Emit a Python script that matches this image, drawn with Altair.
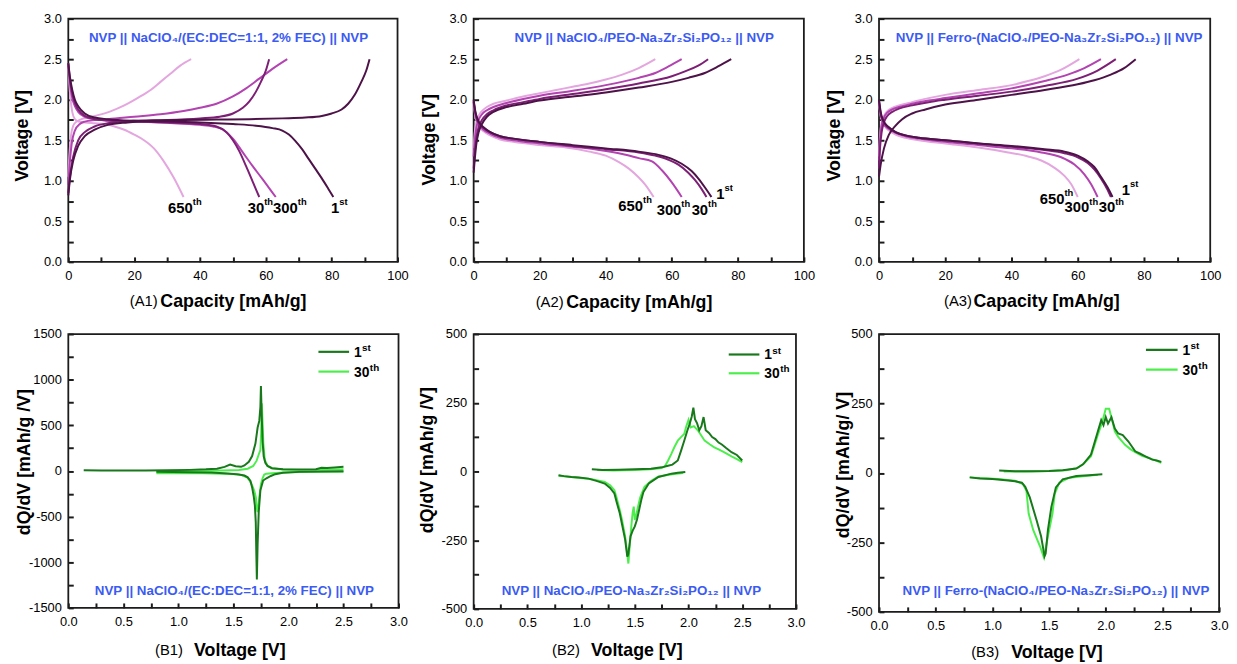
import altair as alt
import pandas as pd

FONT = "Liberation Sans"
BLUE = "#3b5bf2"
INK = "#1c1c1c"
PURPLE = {"1st": "#4d1248", "30th": "#7d1f75", "300th": "#b243b0", "650th": "#e4a6df"}
GREEN = {"1st": "#18781b", "30th": "#4cee4c"}

# ---------------- tick arrays ----------------
CAP_TICKS = [0, 10, 20, 30, 40, 50, 60, 70, 80, 90, 100]
VOLT_TICKS = [0, 0.25, 0.5, 0.75, 1.0, 1.25, 1.5, 1.75, 2.0, 2.25, 2.5, 2.75, 3.0]
DQ1_TICKS = [-1500, -1250, -1000, -750, -500, -250, 0, 250, 500, 750, 1000, 1250, 1500]
DQ23_TICKS = [-500, -375, -250, -125, 0, 125, 250, 375, 500]

# ---------------- A1 : liquid electrolyte, capacity [mAh/g] / voltage [V] ----------------
A1_CH1_C = [0, 0.5, 1.5, 3, 5, 8, 12, 18, 25, 35, 45, 55, 65, 72, 77, 80, 83, 85, 87, 89, 90.5, 91.5]
A1_CH1_V = [0.82, 1.02, 1.25, 1.43, 1.55, 1.63, 1.69, 1.72, 1.74, 1.75, 1.755, 1.76, 1.77, 1.78, 1.80, 1.83, 1.88, 1.95, 2.06, 2.22, 2.36, 2.5]
A1_DC1_C = [0, 0.5, 1.2, 2, 3, 5, 8, 12, 20, 30, 40, 50, 57, 62, 65, 67, 69, 71, 73, 75, 77, 79, 80.5]
A1_DC1_V = [2.45, 2.28, 2.12, 2.0, 1.92, 1.83, 1.78, 1.76, 1.74, 1.73, 1.72, 1.70, 1.68, 1.65, 1.62, 1.57, 1.49, 1.39, 1.27, 1.15, 1.03, 0.90, 0.80]
A1_CH30_C = [0, 0.5, 1.5, 3, 5, 8, 12, 20, 30, 40, 46, 50, 53, 55, 57, 58.5, 60, 61]
A1_CH30_V = [0.85, 1.05, 1.3, 1.5, 1.6, 1.67, 1.71, 1.74, 1.75, 1.77, 1.79, 1.83, 1.9, 1.98, 2.1, 2.22, 2.36, 2.5]
A1_DC30_C = [0, 0.5, 1.2, 2, 3, 5, 8, 12, 20, 30, 40, 45, 48, 50, 52, 54, 56, 58]
A1_DC30_V = [2.45, 2.25, 2.08, 1.96, 1.88, 1.8, 1.76, 1.745, 1.73, 1.72, 1.70, 1.67, 1.6, 1.5, 1.36, 1.18, 0.99, 0.80]
A1_CH300_C = [0, 0.4, 1, 2, 3.5, 5, 8, 12, 20, 28, 35, 40, 45, 50, 54, 58, 62, 66.5]
A1_CH300_V = [0.95, 1.2, 1.45, 1.62, 1.7, 1.73, 1.75, 1.76, 1.79, 1.82, 1.86, 1.9, 1.95, 2.04, 2.14, 2.26, 2.38, 2.5]
A1_DC300_C = [0, 0.5, 1.2, 2, 3, 5, 8, 12, 20, 30, 40, 44, 47, 50, 53, 56, 59, 61, 63]
A1_DC300_V = [2.42, 2.2, 2.02, 1.92, 1.85, 1.79, 1.76, 1.745, 1.73, 1.715, 1.69, 1.67, 1.63, 1.52, 1.35, 1.18, 1.02, 0.91, 0.80]
A1_CH650_C = [0, 0.3, 0.8, 1.5, 2.5, 4, 6, 9, 13, 17, 21, 25, 28, 31, 34, 37.3]
A1_CH650_V = [1.05, 1.3, 1.55, 1.68, 1.73, 1.76, 1.78, 1.81, 1.86, 1.93, 2.02, 2.12, 2.22, 2.32, 2.42, 2.5]
A1_DC650_C = [0, 0.3, 0.7, 1.2, 2, 3, 5, 8, 11, 14, 17, 20, 23, 26, 29, 32, 35]
A1_DC650_V = [2.45, 2.2, 2.0, 1.85, 1.76, 1.73, 1.72, 1.71, 1.7, 1.67, 1.63, 1.57, 1.5, 1.4, 1.24, 1.04, 0.80]

# ---------------- A2 : PEO-NZSP ----------------
A2_CH1_C = [0, 0.3, 0.8, 1.5, 2.5, 4, 6, 10, 15, 20, 30, 40, 50, 60, 65, 70, 74, 78]
A2_CH1_V = [1.1, 1.25, 1.45, 1.6, 1.7, 1.79, 1.85, 1.91, 1.95, 1.99, 2.04, 2.09, 2.15, 2.22, 2.27, 2.33, 2.41, 2.5]
A2_CH30_C = [0, 0.3, 0.8, 1.5, 2.5, 4, 6, 10, 15, 20, 30, 40, 50, 60, 64, 68, 71]
A2_CH30_V = [1.15, 1.32, 1.52, 1.66, 1.75, 1.82, 1.87, 1.93, 1.97, 2.01, 2.07, 2.13, 2.2, 2.29, 2.35, 2.42, 2.5]
A2_CH300_C = [0, 0.3, 0.8, 1.5, 2.5, 4, 6, 10, 15, 20, 30, 40, 50, 55, 59, 63]
A2_CH300_V = [1.3, 1.48, 1.65, 1.75, 1.82, 1.87, 1.91, 1.96, 2.01, 2.05, 2.11, 2.18, 2.27, 2.33, 2.41, 2.5]
A2_CH650_C = [0, 0.3, 0.8, 1.5, 2.5, 4, 6, 10, 15, 20, 25, 30, 35, 40, 45, 50, 55]
A2_CH650_V = [1.4, 1.58, 1.72, 1.8, 1.86, 1.91, 1.95, 1.99, 2.04, 2.08, 2.12, 2.16, 2.2, 2.25, 2.31, 2.39, 2.5]
A2_DC1_C = [0, 0.5, 1.2, 2, 3, 5, 8, 12, 20, 30, 40, 50, 56, 60, 63, 66, 68, 70, 72]
A2_DC1_V = [2.0, 1.86, 1.76, 1.7, 1.66, 1.6, 1.55, 1.52, 1.48, 1.44, 1.4, 1.36, 1.32, 1.27, 1.21, 1.12, 1.03, 0.92, 0.80]
A2_DC30_C = [0, 0.5, 1.2, 2, 3, 5, 8, 12, 20, 30, 40, 50, 55, 59, 62, 65, 67, 69, 70.5]
A2_DC30_V = [1.98, 1.84, 1.74, 1.69, 1.65, 1.6, 1.55, 1.52, 1.48, 1.43, 1.39, 1.35, 1.31, 1.26, 1.2, 1.1, 1.01, 0.9, 0.80]
A2_DC300_C = [0, 0.5, 1.2, 2, 3, 5, 8, 12, 20, 30, 38, 45, 50, 54, 57, 60, 63]
A2_DC300_V = [1.97, 1.82, 1.72, 1.67, 1.63, 1.58, 1.53, 1.5, 1.46, 1.42, 1.38, 1.33, 1.28, 1.24, 1.13, 0.98, 0.80]
A2_DC650_C = [0, 0.5, 1.2, 2, 3, 5, 8, 12, 20, 28, 35, 40, 44, 47, 50, 52, 54.5]
A2_DC650_V = [1.96, 1.8, 1.7, 1.65, 1.61, 1.56, 1.51, 1.48, 1.44, 1.41, 1.36, 1.31, 1.23, 1.15, 1.04, 0.95, 0.80]

# ---------------- A3 : Ferro-(PEO-NZSP) ----------------
A3_CH1_C = [0, 0.5, 1.5, 3, 5, 7, 10, 14, 20, 30, 40, 50, 60, 65, 70, 74, 77.5]
A3_CH1_V = [1.05, 1.2, 1.4, 1.57, 1.68, 1.76, 1.83, 1.88, 1.94, 2.0, 2.06, 2.12, 2.19, 2.24, 2.31, 2.39, 2.5]
A3_CH30_C = [0, 0.3, 0.8, 1.5, 2.5, 4, 6, 10, 15, 20, 30, 40, 50, 60, 66, 71.5]
A3_CH30_V = [1.15, 1.4, 1.6, 1.72, 1.8, 1.85, 1.89, 1.93, 1.97, 2.0, 2.05, 2.1, 2.17, 2.26, 2.36, 2.5]
A3_CH300_C = [0, 0.3, 0.8, 1.5, 2.5, 4, 6, 10, 15, 20, 30, 40, 50, 57, 62, 67]
A3_CH300_V = [1.25, 1.5, 1.68, 1.78, 1.84, 1.88, 1.91, 1.95, 1.99, 2.02, 2.08, 2.14, 2.23, 2.31, 2.39, 2.5]
A3_CH650_C = [0, 0.3, 0.8, 1.5, 2.5, 4, 6, 10, 15, 20, 30, 40, 45, 50, 55, 60.5]
A3_CH650_V = [1.3, 1.55, 1.72, 1.8, 1.86, 1.9, 1.93, 1.97, 2.02, 2.06, 2.12, 2.18, 2.23, 2.29, 2.37, 2.5]
A3_DC1_C = [0, 0.5, 1.2, 2, 3, 5, 8, 12, 20, 30, 40, 50, 56, 60, 63, 65, 67, 69, 70.5]
A3_DC1_V = [2.0, 1.85, 1.75, 1.7, 1.66, 1.6, 1.56, 1.53, 1.5, 1.46, 1.43, 1.39, 1.36, 1.31, 1.24, 1.17, 1.05, 0.92, 0.80]
A3_DC30_C = [0, 0.5, 1.2, 2, 3, 5, 8, 12, 20, 30, 40, 50, 56, 60, 63, 65, 67, 69, 70]
A3_DC30_V = [1.98, 1.83, 1.74, 1.69, 1.65, 1.6, 1.56, 1.53, 1.5, 1.46, 1.42, 1.38, 1.34, 1.29, 1.22, 1.14, 1.03, 0.89, 0.80]
A3_DC300_C = [0, 0.5, 1.2, 2, 3, 5, 8, 12, 20, 30, 40, 49, 55, 59, 62, 64, 66]
A3_DC300_V = [1.97, 1.82, 1.72, 1.67, 1.64, 1.59, 1.55, 1.52, 1.48, 1.44, 1.4, 1.35, 1.29, 1.2, 1.08, 0.96, 0.80]
A3_DC650_C = [0, 0.5, 1.2, 2, 3, 5, 8, 12, 20, 30, 39, 45, 49, 53, 56, 58, 60]
A3_DC650_V = [1.96, 1.8, 1.71, 1.66, 1.62, 1.57, 1.53, 1.5, 1.46, 1.41, 1.35, 1.3, 1.25, 1.16, 1.06, 0.96, 0.80]

# cycle labels (junction of number and superscript, data coords)
LAB_MAIN = ["650", "30", "300", "1"]
LAB_SUP = ["th", "th", "th", "st"]
A1_LAB_C = [37.8, 59.5, 69.7, 82.3]
A1_LAB_V = [0.66, 0.66, 0.66, 0.66]
A2_LAB_C = [51.3, 71.0, 62.9, 76.0]
A2_LAB_V = [0.69, 0.64, 0.64, 0.84]
A3_LAB_C = [56.0, 71.3, 63.5, 75.8]
A3_LAB_V = [0.77, 0.67, 0.67, 0.89]

# ---------------- B1 : dQ/dV liquid ----------------
B1_CH1_V = [0.14, 0.3, 0.5, 0.7, 0.9, 1.1, 1.25, 1.35, 1.42, 1.47, 1.52, 1.57, 1.6, 1.64, 1.67, 1.7, 1.72, 1.735, 1.745, 1.75, 1.756, 1.765, 1.775, 1.79, 1.81, 1.85, 1.95, 2.1, 2.25, 2.3, 2.35, 2.42, 2.5]
B1_CH1_Q = [8, 5, 4, 6, 8, 12, 18, 25, 45, 70, 52, 45, 60, 100, 163, 300, 476, 548, 700, 930, 650, 320, 160, 90, 55, 30, 18, 15, 18, 35, 32, 38, 45]
B1_CH30_V = [0.8, 1.0, 1.2, 1.4, 1.55, 1.63, 1.68, 1.71, 1.73, 1.745, 1.752, 1.758, 1.764, 1.772, 1.785, 1.81, 1.85, 1.95, 2.1, 2.3, 2.5]
B1_CH30_Q = [-5, 0, 3, 5, 10, 25, 55, 110, 180, 230, 420, 740, 560, 300, 120, 55, 30, 15, 12, 12, 18]
B1_DC1_V = [2.5, 2.3, 2.1, 1.95, 1.88, 1.84, 1.8, 1.77, 1.745, 1.73, 1.72, 1.713, 1.708, 1.703, 1.695, 1.685, 1.67, 1.655, 1.63, 1.6, 1.55, 1.45, 1.3, 1.1, 0.95, 0.8]
B1_DC1_Q = [-3, -6, -10, -20, -35, -55, -80, -105, -212, -450, -800, -1190, -900, -560, -380, -280, -180, -110, -70, -50, -38, -28, -18, -14, -12, -10]
B1_DC30_V = [2.5, 2.3, 2.1, 1.95, 1.85, 1.8, 1.78, 1.765, 1.75, 1.735, 1.726, 1.72, 1.712, 1.704, 1.69, 1.673, 1.65, 1.626, 1.58, 1.53, 1.4, 1.22, 1.0, 0.8]
B1_DC30_Q = [-8, -10, -12, -16, -24, -30, -40, -80, -145, -290, -400, -450, -400, -290, -220, -166, -110, -72, -48, -36, -30, -25, -24, -24]

# ---------------- B2 : dQ/dV PEO-NZSP ----------------
B2_CH1_V = [1.1, 1.2, 1.35, 1.5, 1.65, 1.75, 1.8, 1.85, 1.9, 1.93, 1.96, 1.99, 2.01, 2.03, 2.045, 2.06, 2.08, 2.1, 2.12, 2.14, 2.16, 2.19, 2.22, 2.25, 2.28, 2.31, 2.35, 2.4, 2.45, 2.5]
B2_CH1_Q = [8, 5, 6, 8, 10, 15, 20, 25, 40, 75, 112, 150, 172, 200, 232, 190, 175, 150, 165, 198, 150, 140, 125, 118, 105, 98, 85, 70, 60, 40]
B2_CH30_V = [1.15, 1.3, 1.5, 1.65, 1.75, 1.78, 1.81, 1.84, 1.87, 1.9, 1.93, 1.96, 1.98, 2.0, 2.02, 2.05, 2.09, 2.12, 2.15, 2.2, 2.24, 2.28, 2.33, 2.4, 2.45, 2.5]
B2_CH30_Q = [5, 3, 5, 8, 12, 19, 40, 64, 90, 112, 125, 136, 165, 188, 160, 165, 148, 130, 112, 98, 88, 80, 70, 55, 45, 34]
B2_DC1_V = [1.97, 1.9, 1.84, 1.72, 1.63, 1.58, 1.56, 1.54, 1.52, 1.5, 1.48, 1.46, 1.44, 1.43, 1.41, 1.38, 1.36, 1.33, 1.31, 1.27, 1.22, 1.15, 1.07, 0.98, 0.91, 0.84, 0.79]
B2_DC1_Q = [-2, -5, -8, -20, -44, -75, -104, -140, -176, -200, -215, -236, -300, -310, -248, -190, -152, -110, -80, -60, -44, -35, -26, -22, -20, -17, -14]
B2_DC30_V = [1.95, 1.85, 1.72, 1.65, 1.59, 1.55, 1.53, 1.51, 1.5, 1.49, 1.48, 1.47, 1.455, 1.44, 1.43, 1.41, 1.38, 1.36, 1.33, 1.31, 1.27, 1.22, 1.1, 0.91, 0.79]
B2_DC30_Q = [-6, -10, -18, -35, -56, -95, -128, -165, -176, -128, -150, -188, -260, -335, -300, -236, -175, -140, -95, -68, -50, -38, -28, -20, -16]

# ---------------- B3 : dQ/dV Ferro-(PEO-NZSP) ----------------
B3_CH1_V = [1.06, 1.2, 1.35, 1.5, 1.62, 1.74, 1.8, 1.87, 1.93, 1.96, 1.98, 2.0, 2.02, 2.05, 2.08, 2.11, 2.15, 2.2, 2.26, 2.3, 2.35, 2.41, 2.45, 2.49]
B3_CH1_Q = [9, 6, 6, 7, 10, 16, 31, 66, 149, 190, 172, 201, 178, 200, 160, 142, 136, 113, 78, 70, 60, 48, 45, 40]
B3_CH30_V = [1.1, 1.3, 1.5, 1.65, 1.75, 1.81, 1.87, 1.93, 1.97, 2.0, 2.03, 2.06, 2.08, 2.11, 2.17, 2.22, 2.26, 2.32, 2.38, 2.44, 2.49]
B3_CH30_Q = [5, 5, 7, 10, 18, 35, 60, 137, 184, 231, 231, 184, 150, 130, 101, 85, 75, 62, 54, 45, 36]
B3_DC1_V = [1.97, 1.85, 1.74, 1.62, 1.56, 1.52, 1.49, 1.47, 1.46, 1.43, 1.39, 1.33, 1.29, 1.26, 1.2, 1.14, 1.0, 0.89, 0.8]
B3_DC1_Q = [-5, -8, -11, -23, -52, -123, -205, -290, -300, -229, -170, -88, -50, -35, -30, -27, -22, -20, -16]
B3_DC30_V = [1.93, 1.8, 1.68, 1.59, 1.55, 1.53, 1.49, 1.455, 1.42, 1.36, 1.32, 1.3, 1.27, 1.2, 1.05, 0.8]
B3_DC30_Q = [-7, -12, -17, -35, -75, -146, -228, -305, -264, -205, -146, -64, -40, -28, -22, -16]

HEAD1 = "NVP || NaClO\u2084/(EC:DEC=1:1, 2% FEC) || NVP"
HEAD2 = "NVP || NaClO\u2084/PEO-Na\u2083Zr\u2082Si\u2082PO\u2081\u2082 || NVP"
HEAD3 = "NVP || Ferro-(NaClO\u2084/PEO-Na\u2083Zr\u2082Si\u2082PO\u2081\u2082) || NVP"

ONE = pd.DataFrame({"k": [0]})


def table(series, colors):
    rows = []
    for cyc, kind, xs, ys in series:
        if len(xs) != len(ys):
            raise ValueError(f"length mismatch {cyc} {kind}: {len(xs)} vs {len(ys)}")
        for i, (x, y) in enumerate(zip(xs, ys)):
            rows.append({"cyc": cyc, "col": colors[cyc], "s": f"{cyc}-{kind}", "x": x, "y": y, "i": i})
    return pd.DataFrame(rows)


def lab_expr(step, decimals):
    shown = "format(datum.value, '.1f')" if decimals else "'' + datum.value"
    return f"abs(datum.value % {step}) < 1e-9 ? {shown} : ''"


def const_text(text, x, y, size, weight="bold", color="black", align="left"):
    return alt.Chart(ONE).mark_text(
        text=text, font=FONT, fontSize=size, fontWeight=weight, color=color,
        align=align, baseline="middle"
    ).encode(x=alt.value(x), y=alt.value(y))


def panel(series, colors, w, h, xdom, xticks, xstep, xdec, ydom, yticks, ystep, ydec,
          xtitle, tc, tag, tag_gap, xt_dy, ytitle, yt_left, yt_cy, header, hx, hy, interp,
          labels=None, legend=None):
    df = table(series, colors)
    xscale = alt.Scale(domain=xdom, nice=False, zero=False)
    yscale = alt.Scale(domain=ydom, nice=False, zero=False)
    common = dict(tickSize=5, tickWidth=2, tickColor=INK, ticks=True,
                  domain=False, grid=False,
                  labelFont=FONT, labelFontSize=13, labelColor="black",
                  labelFlush=False, labelOverlap=False,
                  titleFont=FONT, titleFontSize=18, titleFontWeight="bold", titleColor="black")
    xaxis = alt.Axis(values=xticks, labelExpr=lab_expr(xstep, xdec), offset=-5, title=xtitle,
                     labelPadding=8, titleX=tc, titleY=xt_dy + 5, titleAlign="center",
                     titleBaseline="middle", **common)
    yaxis = alt.Axis(values=yticks, labelExpr=lab_expr(ystep, ydec), offset=-5, title=ytitle,
                     labelPadding=7, titleAngle=270, titleX=yt_left - 6, titleY=yt_cy, titleAlign="center",
                     titleBaseline="top", **common)
    X = alt.X("x:Q", scale=xscale, axis=xaxis)
    Y = alt.Y("y:Q", scale=yscale, axis=yaxis)

    lines = alt.Chart(df).mark_line(strokeWidth=2, interpolate=interp).encode(
        x=X, y=Y, detail="s:N", order="i:Q", color=alt.Color("col:N", scale=None))

    layers = [lines,
              const_text(header, hx, hy, 13.5, color=BLUE, align="center"),
              const_text(tag, tc - tag_gap, h + xt_dy, 15, weight="normal", align="right")]
    if labels is not None:
        ldf = pd.DataFrame({"x": labels[0], "y": labels[1], "main": LAB_MAIN, "sup": LAB_SUP})
        layers.append(alt.Chart(ldf).mark_text(font=FONT, fontSize=15, fontWeight="bold", color="black",
                                               align="right", baseline="middle").encode(x=X, y=Y, text="main:N"))
        layers.append(alt.Chart(ldf).mark_text(font=FONT, fontSize=9.5, fontWeight="bold", color="black",
                                               align="left", baseline="middle", dy=-6).encode(x=X, y=Y, text="sup:N"))
    if legend is not None:
        lx1, lx2, tx, ys = legend
        for (cyc, main, sup, mw), yy in zip([("1st", "1", "st", 8), ("30th", "30", "th", 16)], ys):
            layers.append(alt.Chart(ONE).mark_rule(color=colors[cyc], strokeWidth=2.2).encode(
                x=alt.value(lx1), x2=alt.value(lx2), y=alt.value(yy)))
            layers.append(const_text(main, tx, yy + 1, 14))
            layers.append(const_text(sup, tx + mw, yy - 4, 10))
    return alt.layer(*layers).properties(width=w, height=h)


A1 = panel([("650th", "c", A1_CH650_C, A1_CH650_V), ("650th", "d", A1_DC650_C, A1_DC650_V),
            ("300th", "c", A1_CH300_C, A1_CH300_V), ("300th", "d", A1_DC300_C, A1_DC300_V),
            ("30th", "c", A1_CH30_C, A1_CH30_V), ("30th", "d", A1_DC30_C, A1_DC30_V),
            ("1st", "c", A1_CH1_C, A1_CH1_V), ("1st", "d", A1_DC1_C, A1_DC1_V)],
           PURPLE, 333, 246, [0, 100], CAP_TICKS, 20, False, [0, 3], VOLT_TICKS, 0.5, True,
           "Capacity [mAh/g]", 166.5, "(A1)", 76, 40, "Voltage [V]", -54, 118, HEAD1, 162, 20, "monotone",
           labels=(A1_LAB_C, A1_LAB_V))
A2 = panel([("650th", "c", A2_CH650_C, A2_CH650_V), ("650th", "d", A2_DC650_C, A2_DC650_V),
            ("300th", "c", A2_CH300_C, A2_CH300_V), ("300th", "d", A2_DC300_C, A2_DC300_V),
            ("30th", "c", A2_CH30_C, A2_CH30_V), ("30th", "d", A2_DC30_C, A2_DC30_V),
            ("1st", "c", A2_CH1_C, A2_CH1_V), ("1st", "d", A2_DC1_C, A2_DC1_V)],
           PURPLE, 334, 246, [0, 100], CAP_TICKS, 20, False, [0, 3], VOLT_TICKS, 0.5, True,
           "Capacity [mAh/g]", 167, "(A2)", 76, 41, "Voltage [V]", -53, 122, HEAD2, 172.5, 20, "monotone",
           labels=(A2_LAB_C, A2_LAB_V))
A3 = panel([("650th", "c", A3_CH650_C, A3_CH650_V), ("650th", "d", A3_DC650_C, A3_DC650_V),
            ("300th", "c", A3_CH300_C, A3_CH300_V), ("300th", "d", A3_DC300_C, A3_DC300_V),
            ("30th", "c", A3_CH30_C, A3_CH30_V), ("30th", "d", A3_DC30_C, A3_DC30_V),
            ("1st", "c", A3_CH1_C, A3_CH1_V), ("1st", "d", A3_DC1_C, A3_DC1_V)],
           PURPLE, 335, 246, [0, 100], CAP_TICKS, 20, False, [0, 3], VOLT_TICKS, 0.5, True,
           "Capacity [mAh/g]", 169, "(A3)", 75, 40, "Voltage [V]", -53, 118, HEAD3, 172, 20, "monotone",
           labels=(A3_LAB_C, A3_LAB_V))
B1 = panel([("30th", "c", B1_CH30_V, B1_CH30_Q), ("30th", "d", B1_DC30_V, B1_DC30_Q),
            ("1st", "c", B1_CH1_V, B1_CH1_Q), ("1st", "d", B1_DC1_V, B1_DC1_Q)],
           GREEN, 334, 277, [0, 3], VOLT_TICKS, 0.5, True, [-1500, 1500], DQ1_TICKS, 500, False,
           "Voltage [V]", 173, "(B1)", 57, 43, "dQ/dV [mAh/g /V]", -52, 129, HEAD1, 168, 260, "linear",
           legend=(253, 284, 289, (18, 38)))
B2 = panel([("30th", "c", B2_CH30_V, B2_CH30_Q), ("30th", "d", B2_DC30_V, B2_DC30_Q),
            ("1st", "c", B2_CH1_V, B2_CH1_Q), ("1st", "d", B2_DC1_V, B2_DC1_Q)],
           GREEN, 326, 278, [0, 3], VOLT_TICKS, 0.5, True, [-500, 500], DQ23_TICKS, 250, False,
           "Voltage [V]", 164.5, "(B2)", 57, 42, "dQ/dV [mAh/g /V]", -55, 127, HEAD2, 159.5, 260, "linear",
           legend=(258, 289, 294, (20.7, 39.7)))
B3 = panel([("30th", "c", B3_CH30_V, B3_CH30_Q), ("30th", "d", B3_DC30_V, B3_DC30_Q),
            ("1st", "c", B3_CH1_V, B3_CH1_Q), ("1st", "d", B3_DC1_V, B3_DC1_Q)],
           GREEN, 344, 281, [0, 3], VOLT_TICKS, 0.5, True, [-500, 500], DQ23_TICKS, 250, False,
           "Voltage [V]", 179.5, "(B3)", 58, 41, "dQ/dV [mAh/g/ V]", -44, 132, HEAD3, 179, 260, "linear",
           legend=(270, 302, 307, (16, 36)))

chart = alt.concat(
    A1, A2, A3, B1, B2, B3, columns=3,
    spacing={"row": 73, "column": 76}, bounds="flush", align="none"
).properties(
    padding={"left": 5, "top": 0, "right": 0, "bottom": 0}
).configure_view(stroke=INK, strokeWidth=1.8)

chart.save("out.html", embed_options={"renderer": "svg", "actions": False})
